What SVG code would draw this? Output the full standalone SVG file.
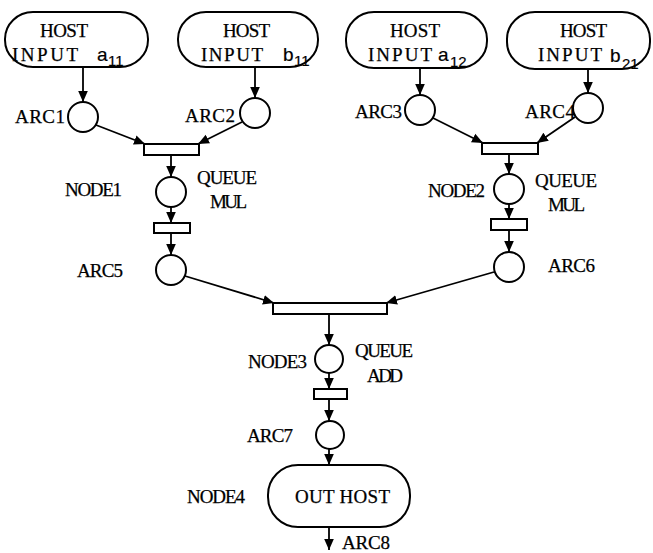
<svg xmlns="http://www.w3.org/2000/svg" width="653" height="553" viewBox="0 0 653 553">
  <style>
    .box { fill: #fff; stroke: #000; stroke-width: 2; }
    .place { fill: #fff; stroke: #000; stroke-width: 2; }
    .bar { fill: #fff; stroke: #000; stroke-width: 2; }
    .edge { fill: none; stroke: #000; stroke-width: 1.8; marker-end: url(#head); }
    text { font-family: "Liberation Serif", "Times New Roman", serif; font-size: 19px; fill: #000; stroke: #000; stroke-width: 0.25; }
    .sub { font-family: "Liberation Sans", Arial, sans-serif; font-size: 15px; stroke-width: 0.2; }
    .var { font-family: "Liberation Sans", Arial, sans-serif; font-size: 19px; stroke-width: 0.2; }
  </style>
  <defs>
    <marker id="head" markerUnits="userSpaceOnUse" markerWidth="12" markerHeight="12" viewBox="0 0 12 12" refX="11" refY="6" orient="auto">
      <path d="M0,1.2 L11,6 L0,10.8 Z" fill="#000"/>
    </marker>
  </defs>

  <rect width="653" height="553" fill="#fff"/>

  <!-- connectors -->
  <g id="connectors">
    <line class="edge" x1="83" y1="67" x2="83" y2="102"/>
    <line class="edge" x1="255" y1="67" x2="255" y2="98"/>
    <line class="edge" x1="96" y1="125" x2="145" y2="144"/>
    <line class="edge" x1="242" y1="122" x2="198" y2="144"/>
    <line class="edge" x1="171" y1="156" x2="171" y2="177"/>
    <line class="edge" x1="171" y1="207" x2="171" y2="223"/>
    <line class="edge" x1="171" y1="233" x2="171" y2="255"/>
    <line class="edge" x1="185" y1="276" x2="274" y2="303"/>

    <line class="edge" x1="420" y1="68" x2="420" y2="95"/>
    <line class="edge" x1="588" y1="69" x2="588" y2="93"/>
    <line class="edge" x1="433" y1="118" x2="483" y2="143"/>
    <line class="edge" x1="575" y1="117" x2="537" y2="143"/>
    <line class="edge" x1="509" y1="155" x2="509" y2="174"/>
    <line class="edge" x1="509" y1="204" x2="509" y2="219"/>
    <line class="edge" x1="509" y1="230" x2="509" y2="252"/>
    <line class="edge" x1="494" y1="272" x2="386" y2="303"/>

    <line class="edge" x1="329" y1="314" x2="329" y2="345"/>
    <line class="edge" x1="329" y1="373" x2="329" y2="389"/>
    <line class="edge" x1="329" y1="399" x2="329" y2="421"/>
    <line class="edge" x1="329" y1="449" x2="329" y2="465"/>
    <line class="edge" x1="329" y1="527" x2="329" y2="550"/>
  </g>

  <!-- host input nodes -->
  <g id="host-a11">
    <rect class="box" x="5" y="12" width="143" height="55" rx="28" ry="27"/>
    <text x="40" y="37" textLength="48" lengthAdjust="spacing">HOST</text>
    <text x="12" y="61" textLength="66" lengthAdjust="spacing">INPUT</text>
    <text class="var" x="97" y="61">a</text>
    <text class="sub" x="108" y="66">11</text>
  </g>
  <g id="host-b11">
    <rect class="box" x="178" y="12" width="140" height="55" rx="28" ry="27"/>
    <text x="223" y="37" textLength="47" lengthAdjust="spacing">HOST</text>
    <text x="201" y="61" textLength="62" lengthAdjust="spacing">INPUT</text>
    <text class="var" x="283" y="61">b</text>
    <text class="sub" x="294" y="66">11</text>
  </g>
  <g id="host-a12">
    <rect class="box" x="346" y="12" width="141" height="56" rx="28" ry="27"/>
    <text x="390" y="37" textLength="50" lengthAdjust="spacing">HOST</text>
    <text x="368" y="61" textLength="64" lengthAdjust="spacing">INPUT</text>
    <text class="var" x="438" y="61">a</text>
    <text class="sub" x="450" y="67">12</text>
  </g>
  <g id="host-b21">
    <rect class="box" x="507" y="12" width="143" height="57" rx="28" ry="27"/>
    <text x="560" y="37" textLength="47" lengthAdjust="spacing">HOST</text>
    <text x="538" y="61" textLength="64" lengthAdjust="spacing">INPUT</text>
    <text class="var" x="610" y="62">b</text>
    <text class="sub" x="622" y="69">21</text>
  </g>

  <!-- places -->
  <g id="arc1">
    <circle class="place" cx="83" cy="117" r="15"/>
    <text x="15" y="123" textLength="50" lengthAdjust="spacing">ARC1</text>
  </g>
  <g id="arc2">
    <circle class="place" cx="255" cy="113" r="15"/>
    <text x="185" y="122" textLength="50" lengthAdjust="spacing">ARC2</text>
  </g>
  <g id="arc3">
    <circle class="place" cx="420" cy="110" r="15"/>
    <text x="355" y="118" textLength="47" lengthAdjust="spacing">ARC3</text>
  </g>
  <g id="arc4">
    <circle class="place" cx="588" cy="108" r="15"/>
    <text x="525" y="118" textLength="50" lengthAdjust="spacing">ARC4</text>
  </g>

  <!-- transitions feeding the multiply queues -->
  <g id="join1">
    <rect class="bar" x="144" y="144" width="55" height="11"/>
  </g>
  <g id="join2">
    <rect class="bar" x="482" y="143" width="56" height="11"/>
  </g>

  <g id="node1">
    <circle class="place" cx="171" cy="192" r="15"/>
    <text x="65" y="196" textLength="57" lengthAdjust="spacing">NODE1</text>
    <text x="197" y="184" textLength="60" lengthAdjust="spacing">QUEUE</text>
    <text x="210" y="208" textLength="37" lengthAdjust="spacing">MUL</text>
  </g>
  <g id="node1-fire">
    <rect class="bar" x="154" y="223" width="36" height="10"/>
  </g>
  <g id="arc5">
    <circle class="place" cx="171" cy="270" r="15"/>
    <text x="77" y="277" textLength="46" lengthAdjust="spacing">ARC5</text>
  </g>

  <g id="node2">
    <circle class="place" cx="509" cy="189" r="15"/>
    <text x="428" y="197" textLength="57" lengthAdjust="spacing">NODE2</text>
    <text x="535" y="187" textLength="62" lengthAdjust="spacing">QUEUE</text>
    <text x="548" y="211" textLength="37" lengthAdjust="spacing">MUL</text>
  </g>
  <g id="node2-fire">
    <rect class="bar" x="491" y="219" width="36" height="11"/>
  </g>
  <g id="arc6">
    <circle class="place" cx="509" cy="267" r="15"/>
    <text x="548" y="272" textLength="47" lengthAdjust="spacing">ARC6</text>
  </g>

  <!-- adder stage -->
  <g id="join3">
    <rect class="bar" x="273" y="303" width="114" height="11"/>
  </g>
  <g id="node3">
    <circle class="place" cx="329" cy="359" r="14"/>
    <text x="248" y="368" textLength="59" lengthAdjust="spacing">NODE3</text>
    <text x="355" y="357" textLength="58" lengthAdjust="spacing">QUEUE</text>
    <text x="367" y="382" textLength="36" lengthAdjust="spacing">ADD</text>
  </g>
  <g id="node3-fire">
    <rect class="bar" x="314" y="389" width="33" height="10"/>
  </g>
  <g id="arc7">
    <circle class="place" cx="330" cy="435" r="14"/>
    <text x="247" y="442" textLength="46" lengthAdjust="spacing">ARC7</text>
  </g>

  <!-- output -->
  <g id="node4">
    <rect class="box" x="268" y="465" width="142" height="62" rx="30" ry="30"/>
    <text x="187" y="503" textLength="58" lengthAdjust="spacing">NODE4</text>
    <text x="295" y="503" textLength="95" lengthAdjust="spacing">OUT HOST</text>
  </g>
  <g id="arc8">
    <text x="342" y="549" textLength="48" lengthAdjust="spacing">ARC8</text>
  </g>
</svg>
